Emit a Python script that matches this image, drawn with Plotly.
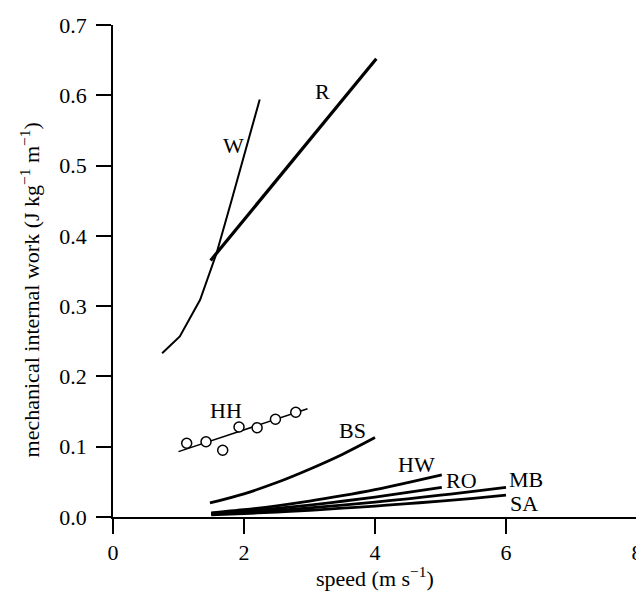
import plotly.graph_objects as go

# ---- data ----
w_x = [0.75, 1.02, 1.33, 1.58, 1.8, 2.0, 2.24]
w_y = [0.233, 0.257, 0.309, 0.375, 0.447, 0.513, 0.594]

r_x = [1.49, 4.02]
r_y = [0.365, 0.652]

hh_pts_x = [1.125, 1.42, 1.675, 1.924, 2.20, 2.48, 2.79]
hh_pts_y = [0.105, 0.107, 0.095, 0.128, 0.127, 0.139, 0.149]
hh_fit_x = [1.0, 2.97]
hh_fit_y = [0.093, 0.154]

bs_x = [1.48, 2.0, 2.5, 3.0, 3.5, 4.0]
bs_y = [0.020, 0.033, 0.049, 0.068, 0.089, 0.113]

hw_x = [1.5, 2.0, 2.5, 3.0, 3.5, 4.0, 4.5, 5.02]
hw_y = [0.006, 0.0104, 0.0159, 0.0225, 0.0303, 0.039, 0.049, 0.060]

ro_x = [1.5, 2.0, 2.5, 3.0, 3.5, 4.0, 4.5, 5.02]
ro_y = [0.005, 0.0083, 0.0124, 0.017, 0.0224, 0.0284, 0.035, 0.042]

mb_x = [1.5, 2.0, 2.5, 3.0, 3.5, 4.0, 4.5, 5.0, 5.5, 6.0]
mb_y = [0.004, 0.0065, 0.0095, 0.013, 0.0169, 0.0212, 0.0259, 0.031, 0.0364, 0.042]

sa_x = [1.5, 2.0, 2.5, 3.0, 3.5, 4.0, 4.5, 5.0, 5.5, 6.0]
sa_y = [0.003, 0.0049, 0.0071, 0.0096, 0.0125, 0.0156, 0.019, 0.0227, 0.0266, 0.031]

labels = ["W", "R", "HH", "BS", "HW", "RO", "MB", "SA"]
label_x = [1.84, 3.2, 1.72, 3.65, 4.64, 5.32, 6.30, 6.27]
label_y = [0.528, 0.605, 0.152, 0.123, 0.074, 0.052, 0.0536, 0.0195]

x_ticks = [0, 2, 4, 6, 8]
y_ticks = [0.0, 0.1, 0.2, 0.3, 0.4, 0.5, 0.6, 0.7]

FONT = "Liberation Serif, Times New Roman, serif"

fig = go.Figure()

def add_line(x, y, width, shape="linear"):
    fig.add_trace(go.Scatter(x=x, y=y, mode="lines",
                             line=dict(color="black", width=width, shape=shape),
                             showlegend=False, hoverinfo="skip"))

add_line(w_x, w_y, 2)
add_line(r_x, r_y, 3.2)
add_line(hh_fit_x, hh_fit_y, 1.5)
fig.add_trace(go.Scatter(x=hh_pts_x, y=hh_pts_y, mode="markers",
                         marker=dict(symbol="circle", size=10, color="white",
                                     line=dict(color="black", width=1.5)),
                         showlegend=False, hoverinfo="skip"))
add_line(bs_x, bs_y, 2.8, "spline")
add_line(hw_x, hw_y, 2.8, "spline")
add_line(ro_x, ro_y, 2.8, "spline")
add_line(mb_x, mb_y, 2.8, "spline")
add_line(sa_x, sa_y, 2.8, "spline")

for t, lx, ly in zip(labels, label_x, label_y):
    fig.add_annotation(x=lx, y=ly, text=t, showarrow=False,
                       font=dict(family=FONT, size=22, color="black"))

fig.add_annotation(xref="paper", yref="paper", x=0.5, y=-0.122,
                   text="speed (m s<sup>\u22121</sup>)", showarrow=False,
                   font=dict(family=FONT, size=22, color="black"),
                   xanchor="center", yanchor="middle")
fig.add_annotation(xref="paper", yref="paper", x=-0.158, y=0.461,
                   text="mechanical internal work (J kg<sup>\u22121</sup> m<sup>\u22121</sup>)",
                   textangle=-90, showarrow=False,
                   font=dict(family=FONT, size=22, color="black"),
                   xanchor="center", yanchor="middle")

axis_common = dict(showline=True, linecolor="black", linewidth=1.5,
                   ticks="outside", ticklen=15, tickwidth=1.5, tickcolor="black",
                   showgrid=False, zeroline=False, automargin=False,
                   ticklabeloverflow="allow",
                   tickfont=dict(family=FONT, size=22, color="black"))

fig.update_xaxes(range=[0, 8], tickvals=x_ticks, **axis_common)
fig.update_yaxes(range=[0, 0.7], tickvals=y_ticks, tickformat=".1f",
                 ticklabelstandoff=5, **axis_common)

# page body has an 8px default margin, so the figure is sized/offset to compensate
fig.update_layout(width=636, height=584,
                  margin=dict(l=105, r=7, t=17, b=75),
                  plot_bgcolor="white", paper_bgcolor="white",
                  font=dict(family=FONT, size=22, color="black"))

fig.write_html("out.html")
